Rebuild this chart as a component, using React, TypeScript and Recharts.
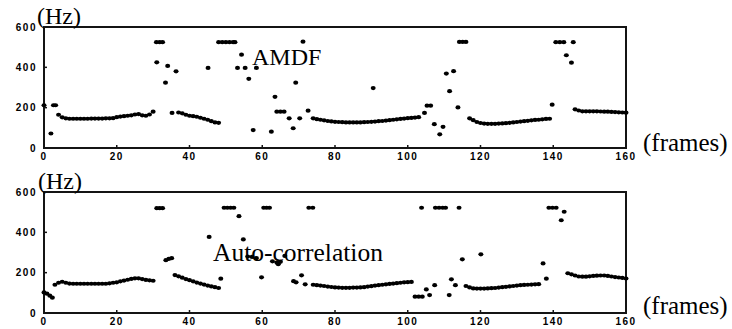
import React from "react";
import { ScatterChart, Scatter, XAxis, YAxis, ReferenceArea } from "recharts";

const frameTicks = [0, 20, 40, 60, 80, 100, 120, 140, 160];
const hzTicks = [0, 200, 400, 600];

// AMDF pitch estimate: voiced tracks (one value per frame) + stray points
const amdfTrackA = { start: 4, hz: [165, 152, 147, 145, 145, 145, 145, 145, 145, 146, 146, 146, 146, 147, 147, 148, 153, 156, 158, 160, 162, 166, 168, 162, 160, 166, 180] };
const amdfTrackB = { start: 37, hz: [176, 172, 165, 160, 158, 155, 150, 145, 140, 133, 127, 125] };
const amdfTrackC = { start: 74, hz: [147, 143, 140, 137, 134, 132, 130, 129, 128, 127, 127, 127, 127, 127, 128, 129, 130, 131, 133, 134, 136, 138, 140, 142, 144, 146, 148, 149, 151, 153] };
const amdfTrackD = { start: 117, hz: [147, 138, 129, 124, 121, 120, 120, 120, 121, 122, 123, 125, 127, 129, 131, 133, 135, 137, 139, 140, 142, 144, 145] };
const amdfTrackE = { start: 146, hz: [192, 186, 182, 182, 182, 182, 182, 181, 180, 180, 179, 178, 177, 176, 175] };
const amdfStray = [
  [0, 212], [1.9, 72], [2.6, 212], [3.2, 212],
  [31, 425], [30.9, 525], [31.8, 525], [32.6, 525],
  [33.4, 324], [34, 407], [36.3, 380], [35.2, 174],
  [45.1, 397],
  [48, 525], [49, 525], [50, 525], [51, 525], [52, 525], [52.5, 525],
  [53.2, 397], [54.3, 463], [55.3, 397], [56.3, 343], [58.4, 397],
  [57.5, 89], [62.5, 81], [63.5, 254], [64, 180], [65, 180], [66, 180],
  [67.4, 147], [68.5, 98], [69.2, 324], [70.3, 147], [71.2, 527], [72.6, 185],
  [90.5, 297],
  [104.6, 174], [105.3, 210], [106.3, 210],
  [107.3, 118], [108.8, 68], [109.7, 105], [110.6, 369], [111.5, 282], [112.6, 381], [113.8, 201],
  [114.2, 526], [115.1, 526], [116, 526],
  [139.7, 215], [140.7, 525], [141.8, 525], [142.9, 525], [145.5, 525], [143.6, 460], [145, 423],
];

// Auto-correlation pitch estimate
const acTrackA = { start: 3, hz: [140, 150, 155, 150, 146, 145, 145, 145, 145, 145, 145, 145, 145, 145, 145, 147, 150, 152, 157, 161, 165, 169, 172, 172, 168, 164, 162, 160] };
const acTrackB = { start: 36, hz: [188, 182, 175, 168, 163, 157, 151, 146, 141, 136, 132, 128, 124] };
const acTrackC = { start: 74, hz: [140, 138, 136, 134, 131, 129, 127, 126, 125, 125, 125, 126, 126, 127, 128, 131, 133, 136, 138, 140, 142, 144, 146, 148, 150, 152, 153, 154] };
const acTrackD = { start: 116, hz: [134, 127, 122, 121, 121, 121, 122, 123, 124, 126, 128, 130, 132, 134, 136, 138, 139, 140, 141, 142, 143] };
const acTrackE = { start: 144, hz: [197, 192, 186, 181, 180, 180, 182, 184, 185, 186, 186, 184, 181, 178, 176, 174, 171] };
const acStray = [
  [0, 102], [0.8, 96], [1.6, 86], [2.3, 76],
  [31, 520], [31.8, 520], [32.6, 520],
  [33.5, 262], [34.3, 268], [35.1, 272],
  [45.4, 377], [48.6, 170],
  [49.5, 522], [50.4, 522], [51.3, 522], [52.2, 522],
  [53.6, 480], [54.8, 365],
  [56, 280], [57.2, 278], [58.4, 272], [59.8, 177],
  [60.4, 522], [61.2, 522], [62, 522],
  [62.8, 256], [64, 250], [64.4, 242], [65, 254], [66.2, 283],
  [68.6, 158], [69.3, 152], [70.8, 187], [71.8, 142],
  [72.8, 522], [73.9, 522],
  [102, 81], [103, 81], [104, 81],
  [103.8, 522], [105.1, 117], [106, 89], [107.4, 138],
  [107.6, 522], [108.6, 522], [109.6, 522], [110.4, 522],
  [111.4, 89], [112, 167], [113.1, 138], [114.1, 522], [115, 266], [120.1, 291],
  [137.2, 246], [138.1, 170],
  [138.8, 522], [139.8, 522], [140.8, 522], [142.2, 460], [143, 502],
];

const toPoints = (tracks: { start: number; hz: number[] }[], stray: number[][]) => [
  ...tracks.flatMap((t) => t.hz.map((h, i) => ({ f: t.start + i, h }))),
  ...stray.map(([f, h]) => ({ f, h })),
];

const amdfData = toPoints([amdfTrackA, amdfTrackB, amdfTrackC, amdfTrackD, amdfTrackE], amdfStray);
const acData = toPoints([acTrackA, acTrackB, acTrackC, acTrackD, acTrackE], acStray);

const ink = "#141414";

const tickStyle = {
  fill: "#000",
  fontSize: 10,
  fontWeight: 700,
  fontFamily: "'Liberation Sans', Arial, sans-serif",
  letterSpacing: 1.5,
};
const axisLine = { stroke: ink, strokeWidth: 2 };
const tickLine = { stroke: ink, strokeWidth: 1.5 };
const blank = () => "";

const Dot = (p: any) => <ellipse cx={p.cx} cy={p.cy} rx={2.5} ry={2.1} fill="#000" />;

// negative tickSize turns the tick marks inward, labels stay outside
const Panel = ({ data, top }: { data: { f: number; h: number }[]; top: number }) => (
  <div style={{ position: "absolute", left: 0, top }}>
    <ScatterChart width={732} height={168} margin={{ top: 21, right: 96, bottom: 0, left: 0 }}>
      <XAxis
        dataKey="f"
        type="number"
        domain={[0, 160]}
        ticks={frameTicks}
        interval={0}
        height={20}
        tickSize={-3}
        tickMargin={8}
        tickLine={tickLine}
        axisLine={axisLine}
        tick={tickStyle}
      />
      <XAxis
        xAxisId="top"
        orientation="top"
        type="number"
        domain={[0, 160]}
        ticks={frameTicks}
        interval={0}
        height={6}
        tickSize={-3}
        tickLine={tickLine}
        axisLine={axisLine}
        tickFormatter={blank}
      />
      <YAxis
        dataKey="h"
        type="number"
        domain={[0, 600]}
        ticks={hzTicks}
        interval={0}
        width={44}
        tickSize={-3}
        tickMargin={10}
        tickLine={tickLine}
        axisLine={axisLine}
        tick={tickStyle}
      />
      <YAxis
        yAxisId="right"
        orientation="right"
        type="number"
        domain={[0, 600]}
        ticks={hzTicks}
        interval={0}
        width={10}
        tickSize={-6}
        tickLine={tickLine}
        axisLine={axisLine}
        tickFormatter={blank}
      />
      {/* plot frame */}
      <ReferenceArea x1={0} x2={160} y1={0} y2={600} fill="none" stroke={ink} strokeWidth={2} ifOverflow="visible" />
      <Scatter data={data} shape={Dot} isAnimationActive={false} />
    </ScatterChart>
  </div>
);

const serif = "'Liberation Serif', 'Times New Roman', serif";

export default function App() {
  return (
    <div style={{ position: "absolute", left: 0, top: 0, width: 732, height: 329, background: "#fff" }}>
      <Panel data={amdfData} top={0} />
      <Panel data={acData} top={165} />
      <svg width={732} height={329} style={{ position: "absolute", left: 0, top: 0, pointerEvents: "none" }}>
        <g fontFamily={serif} fill="#000">
          <text x={37} y={24} fontSize={24}>(Hz)</text>
          <text x={38} y={189} fontSize={24}>(Hz)</text>
          <text x={643} y={151} fontSize={25}>(frames)</text>
          <text x={643} y={314} fontSize={25}>(frames)</text>
          <text x={252} y={65} fontSize={24}>AMDF</text>
          <text x={213} y={261} fontSize={25.5}>Auto-correlation</text>
        </g>
      </svg>
    </div>
  );
}
